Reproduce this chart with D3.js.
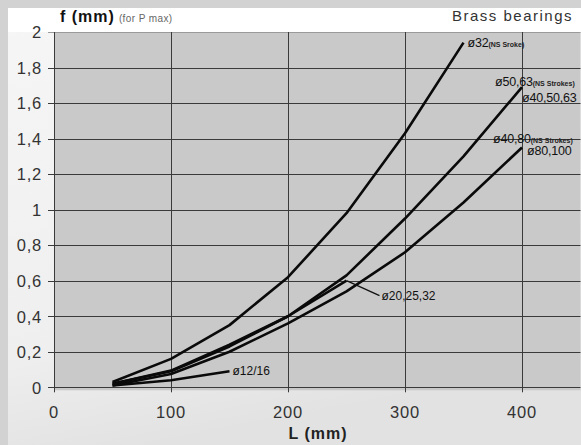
<!DOCTYPE html>
<html><head><meta charset="utf-8">
<script src="https://cdn.jsdelivr.net/npm/d3@7"></script>
<style>
html,body{margin:0;padding:0;background:#d6d6d6;}
svg{display:block;}
text{font-family:"Liberation Sans",Arial,sans-serif;}
</style></head>
<body>
<svg id="c" width="581" height="445"></svg>
<script>
// ---- data ----
const lengths = [50, 100, 150, 200, 250, 300, 350, 400];
const s32NS   = [0.03, 0.16, 0.35, 0.62, 0.98, 1.43, 1.94];
const s50_63  = [0.02, 0.094, 0.24, 0.40, 0.63, 0.95, 1.30, 1.69];
const s40_80  = [0.01, 0.075, 0.20, 0.36, 0.54, 0.76, 1.04, 1.35];
const s20_25_32 = [0.02, 0.09, 0.23, 0.40, 0.60];
const s12_16  = [0.01, 0.04, 0.09];
const xTicks = [0, 100, 200, 300, 400];
const yTicks = [0, 0.2, 0.4, 0.6, 0.8, 1, 1.2, 1.4, 1.6, 1.8, 2];

const svg = d3.select("#c");
const W = 581, H = 445;
const x = d3.scaleLinear([0, 450], [54, 580.5]);
const y = d3.scaleLinear([0, 2], [387.3, 32]);

// background
svg.append("rect").attr("width", W).attr("height", H).attr("fill", "#d2d2d2");
const bg = svg.append("defs").append("linearGradient").attr("id","lg").attr("x1",0).attr("y1",0).attr("x2",0.25).attr("y2",1);
bg.append("stop").attr("offset","0").attr("stop-color","#f6f6f6");
bg.append("stop").attr("offset","0.75").attr("stop-color","#efefef");
bg.append("stop").attr("offset","1").attr("stop-color","#e2e2e2");
svg.append("rect").attr("x", 8).attr("y", 8).attr("width", W - 8).attr("height", H - 8).attr("fill", "url(#lg)");
svg.append("rect").attr("x", 8).attr("y", 8).attr("width", W - 8).attr("height", 24).attr("fill", "#ffffff");

// plot area
svg.append("rect").attr("x", x(0)).attr("y", y(2)).attr("width", x(450) - x(0)).attr("height", y(0) - y(2) + 3)
  .attr("fill", "#c9c9c9");

// grid
const g = svg.append("g");
g.selectAll("line.h").data(yTicks).join("line")
  .attr("x1", x(0) - 6).attr("x2", x(450))
  .attr("y1", d => Math.round(y(d)) + 0.5).attr("y2", d => Math.round(y(d)) + 0.5)
  .attr("stroke", d => d === 2 ? "#9a9a9a" : "#3a3a3a").attr("stroke-width", 1);
g.selectAll("line.v").data(xTicks).join("line")
  .attr("x1", d => Math.round(x(d)) + 0.5).attr("x2", d => Math.round(x(d)) + 0.5)
  .attr("y1", y(2)).attr("y2", y(0) + 5)
  .attr("stroke", "#3a3a3a").attr("stroke-width", 1);

// tick labels
const fmt = d => Number.isInteger(d) ? String(d) : d.toFixed(1).replace(".", ",");
svg.append("g").selectAll("text").data(yTicks).join("text")
  .attr("x", 42).attr("y", d => y(d)).attr("dy", "0.38em")
  .attr("text-anchor", "end").attr("font-size", 16.5).attr("letter-spacing", 0.8)
  .attr("fill", "#333").text(fmt);
svg.append("g").selectAll("text").data(xTicks).join("text")
  .attr("x", d => x(d)).attr("y", 418)
  .attr("text-anchor", "middle").attr("font-size", 16.5).attr("letter-spacing", 0.8)
  .attr("fill", "#333").text(d => d);

// axis titles
const ft = svg.append("text").attr("x", 60).attr("y", 22).attr("fill", "#111");
ft.append("tspan").attr("font-size", 16).attr("font-weight", "bold").attr("letter-spacing", 1).text("f (mm)");
ft.append("tspan").attr("font-size", 10).attr("fill", "#666").attr("dx", 4).attr("letter-spacing", 0.4).text("(for P max)");
svg.append("text").attr("x", 573).attr("y", 21).attr("text-anchor", "end")
  .attr("font-size", 15).attr("letter-spacing", 1.5).attr("fill", "#333").text("Brass bearings");
svg.append("text").attr("x", 318).attr("y", 439).attr("text-anchor", "middle")
  .attr("font-size", 16).attr("font-weight", "bold").attr("letter-spacing", 1).attr("fill", "#222").text("L (mm)");

// lines
const line = d3.line().x(d => x(d[0])).y(d => y(d[1]));
const series = [s12_16, s20_25_32, s40_80, s50_63, s32NS];
svg.append("g").selectAll("path").data(series).join("path")
  .attr("d", s => line(s.map((v, i) => [lengths[i], v])))
  .attr("fill", "none").attr("stroke", "#0a0a0a").attr("stroke-width", 2.6)
  .attr("stroke-linejoin", "round");

// labels
function endPt(s) { const i = s.length - 1; return [x(lengths[i]), y(s[i])]; }
function lab(px, py, big, small, size) {
  const t = svg.append("text").attr("x", px).attr("y", py).attr("fill", "#111");
  t.append("tspan").attr("font-size", size || 12.5).attr("letter-spacing", -0.2).text(big);
  if (small) t.append("tspan").attr("font-size", 7).attr("font-weight", "bold").attr("fill", "#222").text(small);
  return t;
}
let p = endPt(s32NS);
lab(p[0] + 4, p[1] + 4, "ø32", "(NS Sroke)");
p = endPt(s50_63);
lab(p[0] - 27, p[1] - 1, "ø50,63", "(NS Strokes)");
lab(p[0], p[1] + 15, "ø40,50,63");
p = endPt(s40_80);
lab(p[0] - 29, p[1] - 4, "ø40,80", "(NS Strokes)");
lab(p[0] + 5, p[1] + 8, "ø80,100");

// ø20,25,32 leader
p = endPt(s20_25_32);
svg.append("line").attr("x1", p[0]).attr("y1", p[1]).attr("x2", p[0] + 33).attr("y2", p[1] + 15)
  .attr("stroke", "#111").attr("stroke-width", 1.3);
svg.append("text").attr("x", p[0] + 35).attr("y", p[1] + 19).attr("font-size", 12).attr("fill", "#111").text("ø20,25,32");

p = endPt(s12_16);
svg.append("text").attr("x", p[0] + 3).attr("y", p[1] + 4).attr("font-size", 12).attr("fill", "#111").text("ø12/16");
</script>
</body></html>
